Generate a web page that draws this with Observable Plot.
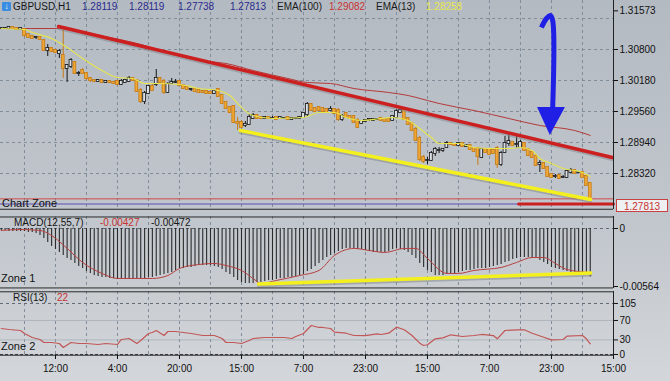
<!DOCTYPE html>
<html><head><meta charset="utf-8">
<script src="https://cdn.jsdelivr.net/npm/d3@7"></script>
<script src="https://cdn.jsdelivr.net/npm/@observablehq/plot@0.6"></script>
<style>
body{margin:0;}
#chart{position:relative;width:670px;height:381px;overflow:hidden;background:linear-gradient(180deg,#b4bac2 0%,#c2c7cd 60%,#d3d6da 100%);font-family:"Liberation Sans",Arial,sans-serif;}
#chart svg{position:absolute;left:0;}
.lbl{position:absolute;font-size:10px;line-height:12px;white-space:nowrap;color:#151515;}
.big{font-size:11px;}
</style></head><body><div id="chart"></div>
<script>
// ---------- DATA ----------
const open = [
1.3122,1.3122,1.3122,1.3124,1.3122,1.3120,1.3120,1.3110,1.3106,1.3104,
1.3104,1.3098,1.3078,1.3082,1.3078,1.3072,1.3068,1.3042,1.3046,1.3054,
1.3032,1.3038,1.3032,1.3022,1.3018,1.3016,1.3018,1.3014,1.3016,1.3014,
1.3016,1.3010,1.3014,1.3016,1.3022,1.3018,1.2998,1.2976,1.2992,1.3006,
1.3010,1.3022,1.3016,1.2994,1.3012,1.3014,1.3016,1.3008,1.3004,1.3000,
1.3000,1.2998,1.2996,1.2996,1.2994,1.2992,1.3000,1.2988,1.2974,1.2964,
1.2966,1.2934,1.2934,1.2928,1.2930,1.2942,1.2948,1.2944,1.2942,1.2944,
1.2942,1.2944,1.2942,1.2942,1.2944,1.2940,1.2942,1.2942,1.2944,1.2950,
1.2970,1.2962,1.2964,1.2962,1.2960,1.2958,1.2960,1.2958,1.2940,1.2952,
1.2946,1.2946,1.2938,1.2932,1.2936,1.2940,1.2938,1.2940,1.2942,1.2940,
1.2940,1.2938,1.2944,1.2954,1.2958,1.2942,1.2932,1.2920,1.2902,1.2864,
1.2858,1.2858,1.2872,1.2878,1.2878,1.2884,1.2892,1.2890,1.2888,1.2892,
1.2886,1.2888,1.2882,1.2882,1.2864,1.2880,1.2880,1.2878,1.2882,1.2850,
1.2874,1.2892,1.2894,1.2890,1.2884,1.2892,1.2880,1.2874,1.2866,1.2850,
1.2852,1.2844,1.2830,1.2826,1.2828,1.2824,1.2824,1.2834,1.2838,1.2834,
1.2834,1.2826,1.2812];
const high = [
1.3124,1.3124,1.3126,1.3126,1.3124,1.3124,1.3122,1.3112,1.3108,1.3106,
1.3106,1.3100,1.3090,1.3084,1.3080,1.3080,1.3124,1.3050,1.3062,1.3056,
1.3036,1.3042,1.3034,1.3024,1.3020,1.3020,1.3020,1.3018,1.3018,1.3016,
1.3018,1.3020,1.3020,1.3026,1.3024,1.3020,1.3002,1.2996,1.3008,1.3012,
1.3040,1.3024,1.3020,1.3014,1.3022,1.3020,1.3018,1.3010,1.3006,1.3002,
1.3002,1.3000,1.2998,1.2998,1.2996,1.2998,1.3002,1.2990,1.2976,1.2966,
1.2968,1.2944,1.2938,1.2936,1.2950,1.2952,1.2950,1.2946,1.2946,1.2946,
1.2946,1.2946,1.2946,1.2944,1.2946,1.2944,1.2944,1.2946,1.2954,1.2974,
1.2972,1.2964,1.2966,1.2964,1.2962,1.2966,1.2962,1.2962,1.2950,1.2954,
1.2948,1.2948,1.2942,1.2938,1.2940,1.2942,1.2942,1.2942,1.2944,1.2942,
1.2942,1.2948,1.2960,1.2962,1.2960,1.2944,1.2934,1.2924,1.2906,1.2868,
1.2864,1.2876,1.2884,1.2884,1.2882,1.2896,1.2894,1.2892,1.2894,1.2894,
1.2890,1.2890,1.2884,1.2884,1.2882,1.2882,1.2882,1.2880,1.2886,1.2876,
1.2906,1.2912,1.2896,1.2910,1.2898,1.2894,1.2882,1.2876,1.2870,1.2858,
1.2854,1.2846,1.2832,1.2830,1.2830,1.2828,1.2840,1.2842,1.2840,1.2836,
1.2836,1.2830,1.2814];
const low = [
1.3120,1.3120,1.3120,1.3120,1.3118,1.3118,1.3104,1.3102,1.3100,1.3100,
1.3098,1.3076,1.3066,1.3074,1.3072,1.3062,1.3022,1.3014,1.3042,1.3030,
1.3026,1.3030,1.3018,1.3014,1.3014,1.3014,1.3012,1.3012,1.3012,1.3010,
1.3008,1.3008,1.3012,1.3014,1.3016,1.2994,1.2972,1.2970,1.2990,1.2996,
1.3006,1.3010,1.2990,1.2992,1.3010,1.3012,1.3006,1.3000,1.2998,1.2996,
1.2994,1.2992,1.2992,1.2990,1.2990,1.2990,1.2984,1.2970,1.2960,1.2952,
1.2932,1.2918,1.2922,1.2924,1.2928,1.2940,1.2940,1.2940,1.2940,1.2940,
1.2940,1.2938,1.2940,1.2940,1.2938,1.2938,1.2940,1.2940,1.2942,1.2946,
1.2956,1.2954,1.2956,1.2954,1.2952,1.2956,1.2950,1.2936,1.2936,1.2942,
1.2940,1.2932,1.2922,1.2930,1.2934,1.2936,1.2936,1.2938,1.2936,1.2934,
1.2934,1.2936,1.2942,1.2952,1.2938,1.2928,1.2916,1.2896,1.2856,1.2852,
1.2850,1.2856,1.2866,1.2872,1.2874,1.2882,1.2888,1.2886,1.2886,1.2884,
1.2884,1.2878,1.2874,1.2848,1.2862,1.2872,1.2868,1.2870,1.2842,1.2846,
1.2872,1.2886,1.2886,1.2882,1.2882,1.2876,1.2866,1.2862,1.2846,1.2834,
1.2840,1.2824,1.2822,1.2822,1.2820,1.2822,1.2822,1.2832,1.2830,1.2832,
1.2822,1.2806,1.2778];
const close = [
1.3122,1.3122,1.3124,1.3122,1.3120,1.3122,1.3108,1.3104,1.3102,1.3104,
1.3100,1.3078,1.3082,1.3076,1.3074,1.3076,1.3042,1.3048,1.3058,1.3032,
1.3032,1.3032,1.3022,1.3018,1.3016,1.3018,1.3014,1.3016,1.3014,1.3012,
1.3010,1.3016,1.3018,1.3022,1.3018,1.2996,1.2976,1.2992,1.3006,1.2998,
1.3022,1.3014,1.2994,1.3010,1.3014,1.3014,1.3008,1.3002,1.3000,1.3000,
1.2996,1.2994,1.2994,1.2992,1.2992,1.2996,1.2986,1.2972,1.2962,1.2954,
1.2934,1.2932,1.2924,1.2930,1.2944,1.2948,1.2942,1.2942,1.2944,1.2942,
1.2942,1.2940,1.2944,1.2942,1.2940,1.2942,1.2942,1.2944,1.2952,1.2970,
1.2958,1.2956,1.2958,1.2956,1.2954,1.2960,1.2952,1.2940,1.2946,1.2944,
1.2942,1.2934,1.2924,1.2936,1.2938,1.2940,1.2940,1.2940,1.2938,1.2936,
1.2936,1.2946,1.2956,1.2958,1.2940,1.2930,1.2918,1.2898,1.2860,1.2856,
1.2858,1.2872,1.2880,1.2878,1.2880,1.2892,1.2890,1.2888,1.2892,1.2886,
1.2888,1.2880,1.2876,1.2866,1.2880,1.2874,1.2870,1.2872,1.2850,1.2872,
1.2892,1.2896,1.2888,1.2890,1.2894,1.2878,1.2868,1.2864,1.2848,1.2852,
1.2842,1.2826,1.2824,1.2826,1.2822,1.2824,1.2836,1.2838,1.2832,1.2834,
1.2824,1.2808,1.27813];

const ema13Idx = [0,6,8,13,17,21,26,30,34,37,40,46,51,56,59,62,65,70,78,82,86,89,93,98,101,105,108,111,113,118,122,126,131,134,137,139,142,145,148,150,152];
const ema13Val = [1.3122,1.3120,1.3114,1.3102,1.3084,1.3062,1.3038,1.3024,1.3022,1.3012,1.3012,1.3010,1.3002,1.2998,1.2988,1.2964,1.2948,1.2942,1.2944,1.2954,1.2954,1.2944,1.2938,1.2942,1.2944,1.2938,1.2922,1.2904,1.2892,1.2892,1.2884,1.2882,1.2882,1.2884,1.2878,1.2862,1.2852,1.2842,1.2838,1.2834,1.28258];
const ema100Idx = [0,15,21,34,51,58,65,74,79,85,91,100,105,110,113,122,131,139,148,152];
const ema100Val = [1.3122,1.3122,1.3114,1.3094,1.3058,1.3052,1.3038,1.3022,1.3014,1.3012,1.3002,1.2994,1.2988,1.2978,1.2972,1.2958,1.2942,1.2928,1.2918,1.29082];

const macdHist = [
-0.00019,-0.00019,-0.00029,-0.00029,-0.00029,-0.00029,-0.00029,-0.00039,-0.00039,-0.00049,
-0.00068,-0.00097,-0.00136,-0.00175,-0.00204,-0.00233,-0.00262,-0.00292,-0.00311,-0.00340,
-0.00369,-0.00389,-0.00418,-0.00437,-0.00457,-0.00467,-0.00476,-0.00476,-0.00486,-0.00486,
-0.00496,-0.00496,-0.00496,-0.00496,-0.00496,-0.00496,-0.00486,-0.00486,-0.00476,-0.00476,
-0.00467,-0.00457,-0.00447,-0.00437,-0.00428,-0.00408,-0.00389,-0.00389,-0.00379,-0.00379,
-0.00369,-0.00360,-0.00360,-0.00360,-0.00360,-0.00369,-0.00379,-0.00399,-0.00428,-0.00447,
-0.00476,-0.00505,-0.00525,-0.00535,-0.00535,-0.00535,-0.00525,-0.00525,-0.00515,-0.00505,
-0.00505,-0.00496,-0.00486,-0.00486,-0.00476,-0.00476,-0.00467,-0.00457,-0.00447,-0.00418,
-0.00399,-0.00369,-0.00340,-0.00311,-0.00282,-0.00262,-0.00243,-0.00224,-0.00204,-0.00194,
-0.00194,-0.00194,-0.00204,-0.00204,-0.00214,-0.00224,-0.00233,-0.00233,-0.00233,-0.00233,
-0.00224,-0.00204,-0.00194,-0.00204,-0.00214,-0.00233,-0.00262,-0.00292,-0.00340,-0.00379,
-0.00408,-0.00428,-0.00457,-0.00457,-0.00457,-0.00447,-0.00437,-0.00437,-0.00428,-0.00418,
-0.00408,-0.00408,-0.00399,-0.00389,-0.00389,-0.00389,-0.00379,-0.00369,-0.00360,-0.00350,
-0.00330,-0.00321,-0.00301,-0.00292,-0.00282,-0.00282,-0.00282,-0.00292,-0.00292,-0.00311,
-0.00330,-0.00350,-0.00379,-0.00389,-0.00399,-0.00408,-0.00418,-0.00428,-0.00428,-0.00428,
-0.00428,-0.00437,-0.00472];
const signalIdx = [0,5,10,13,17,21,26,30,34,39,43,46,51,55,58,62,65,67,71,77,82,86,91,95,99,104,107,110,115,118,122,129,133,137,140,143,146,152];
const signalVal = [-0.00019,-0.00010,-0.00019,-0.00068,-0.00194,-0.00330,-0.00437,-0.00486,-0.00486,-0.00486,-0.00457,-0.00389,-0.00350,-0.00340,-0.00360,-0.00408,-0.00486,-0.00535,-0.00505,-0.00457,-0.00408,-0.00262,-0.00194,-0.00214,-0.00233,-0.00194,-0.00194,-0.00292,-0.00437,-0.00437,-0.00408,-0.00379,-0.00330,-0.00282,-0.00282,-0.00340,-0.00399,-0.00427];

const rsiIdx = [0,2,5,6,8,10,11,13,15,16,18,20,22,25,27,30,31,33,35,36,38,39,40,42,43,45,49,52,55,57,58,60,62,64,65,68,70,73,75,76,78,80,82,83,85,86,89,91,94,97,98,100,102,104,106,108,109,110,112,114,116,119,122,124,127,128,130,133,135,137,140,142,145,146,150,151,152];
const rsiVal = [53.5,51.4,49.4,43.2,35.0,30.9,24.7,24.7,22.6,14.4,24.7,22.6,22.6,20.6,22.6,20.6,30.9,32.9,22.6,28.8,43.2,45.3,49.4,39.1,47.3,47.3,43.2,39.1,39.1,32.9,24.7,24.7,22.6,28.8,32.9,35.0,35.0,35.0,32.9,37.0,43.2,59.7,55.6,55.6,53.5,45.9,43.8,39.1,39.0,42.6,41.2,43.8,56.2,50.8,39.1,23.3,18.5,20.0,32.3,34.3,40.5,37.0,39.1,41.2,39.0,32.3,49.4,50.8,50.8,43.8,35.6,30.2,30.9,37.7,39.1,32.3,22];

// annotations (bar index, price)
const trendRedIdx = [14.8, 157.7], trendRedVal = [1.3126, 1.2864];
const trendYelIdx = [61.7, 152.1], trendYelVal = [1.2918, 1.2780];
const levelRedIdx = [133.5, 158], levelRedVal = 1.2771;
const purpleLevel = 1.2771, lastPrice = 1.27813;
const arrowIdx = [139.4, 140.7, 141.7, 142.3, 142.3], arrowVal = [1.3124, 1.3142, 1.3148, 1.3138, 1.2962];
const arrowHeadIdx = [138.4, 141.7, 145.6], arrowHeadTop = 1.2964, arrowHeadTip = [1.2964, 1.2908, 1.2964];
const macdYelIdx = [66.4, 152.1], macdYelVal = [-0.00540, -0.00433];

const timeIdx = [14,30,46,62,78,94,110,126,142,158];
const timeLabels = ["12:00","4:00","20:00","15:00","7:00","23:00","15:00","7:00","23:00","15:00"];
const priceTicks = [1.31573,1.30800,1.30180,1.29560,1.28940,1.28320];
const priceGrid = [1.3142,1.3080,1.3018,1.2956,1.2894,1.2832];
const macdTicks = [0,-0.00564];
const rsiTicks = [0,30,70,105];

// ---------- BUILD ----------
const chart = document.getElementById("chart");
const XD = [-0.19, 158];
const vGrid = d3.range(6, 151, 8);
const gridStyle = {stroke:"#7b8794", strokeOpacity:0.9, strokeDasharray:"3,3"};
const common = {width:670, marginLeft:0, marginRight:57, marginTop:0,
  style:{background:"transparent", fontFamily:"Liberation Sans, Arial, sans-serif", fontSize:"10px", color:"#111", overflow:"visible"}};

const candles = open.map((o,i)=>({i, o, h:high[i], l:low[i], c:close[i],
  dir: Math.abs(close[i]-o) < 1e-7 ? 0 : (close[i] > o ? 1 : -1)}));
const bodyFill = d => d.dir < 0 ? "#f1a733" : "#dce0e5";
const bodyStroke = d => d.dir < 0 ? "#c47a14" : "#141414";
const pts = (xs, ys) => xs.map((x,k)=>({i:x, v: Array.isArray(ys) ? ys[k] : ys}));

const main = Plot.plot({...common, height:209, marginBottom:0,
  x:{domain:XD, axis:null}, y:{domain:[1.2760,1.3178], axis:null},
  marks:[
    Plot.gridX(vGrid, gridStyle),
    Plot.gridY(priceGrid, gridStyle),
    Plot.ruleY([purpleLevel], {stroke:"#5b4fb6", strokeWidth:1}),
    Plot.ruleY([lastPrice], {stroke:"#d24a4a", strokeWidth:1}),
    Plot.line(pts(ema100Idx, ema100Val), {x:"i", y:"v", stroke:"#b43a3a", strokeWidth:1, curve:"monotone-x"}),
    Plot.ruleX(candles, {x:"i", y1:"l", y2:"h", stroke:bodyStroke, strokeWidth:1}),
    Plot.rect(candles, {x1:d=>d.i-0.36, x2:d=>d.i+0.36, y1:"o", y2:"c", fill:bodyFill, stroke:bodyStroke, strokeWidth:0.8, insetTop:-0.5, insetBottom:-0.5}),
    Plot.line(pts(ema13Idx, ema13Val), {x:"i", y:"v", stroke:"#e6e64e", strokeWidth:1.1, curve:"monotone-x"}),
    Plot.line(pts(trendRedIdx, trendRedVal), {x:"i", y:"v", stroke:"#7f858c", strokeOpacity:0.5, strokeWidth:3, dy:2}),
    Plot.line(pts(trendRedIdx, trendRedVal), {x:"i", y:"v", stroke:"#cc1f1f", strokeWidth:3.5}),
    Plot.line(pts(trendYelIdx, trendYelVal), {x:"i", y:"v", stroke:"#7f858c", strokeOpacity:0.5, strokeWidth:3, dy:2}),
    Plot.line(pts(trendYelIdx, trendYelVal), {x:"i", y:"v", stroke:"#f4f01e", strokeWidth:3.5}),
    Plot.line(pts(levelRedIdx, levelRedVal), {x:"i", y:"v", stroke:"#cc1f1f", strokeWidth:3}),
    Plot.line(pts(arrowIdx, arrowVal), {x:"i", y:"v", stroke:"#1f1fe6", strokeWidth:5, curve:"catmull-rom", strokeLinecap:"butt"}),
    Plot.areaY(arrowHeadIdx.map((x,k)=>({i:x, top:arrowHeadTop, tip:arrowHeadTip[k]})), {x:"i", y1:"top", y2:"tip", fill:"#1f1fe6"}),
    Plot.ruleY([1.27605], {stroke:"#2a2a2a", strokeWidth:1}),
    Plot.ruleX([158], {stroke:"#222"}),
    Plot.axisY(priceTicks, {anchor:"right", tickSize:4, tickPadding:2, tickFormat:d3.format(".5f"), label:null})
  ]});
main.style.top = "0px";
chart.appendChild(main);

const histData = macdHist.map((v,i)=>({i, v}));
const macd = Plot.plot({...common, height:72, marginBottom:0,
  x:{domain:XD, axis:null}, y:{domain:[-0.005834,0.001167], axis:null},
  marks:[
    Plot.gridX(vGrid, gridStyle),
    Plot.ruleY([0], {stroke:"#5f6a76", strokeDasharray:"3,3"}),
    Plot.ruleX(histData, {x:"i", y1:0, y2:"v", stroke:"#2b2b2b", strokeWidth:1.1}),
    Plot.line(pts(signalIdx, signalVal), {x:"i", y:"v", stroke:"#b84040", strokeWidth:1, curve:"monotone-x"}),
    Plot.line(pts(macdYelIdx, macdYelVal), {x:"i", y:"v", stroke:"#7f858c", strokeOpacity:0.5, strokeWidth:3, dy:2}),
    Plot.line(pts(macdYelIdx, macdYelVal), {x:"i", y:"v", stroke:"#f4f01e", strokeWidth:3.5}),
    Plot.ruleY([0.00112], {stroke:"#2a2a2a"}),
    Plot.ruleY([-0.00578], {stroke:"#2a2a2a"}),
    Plot.ruleX([158], {stroke:"#222"}),
    Plot.axisY(macdTicks, {anchor:"right", tickSize:4, tickPadding:2, tickFormat:d=> d===0 ? "0" : d.toFixed(5), label:null})
  ]});
macd.style.top = "216px";
chart.appendChild(macd);

const rsi = Plot.plot({...common, height:90, marginBottom:26,
  x:{domain:XD, axis:null}, y:{domain:[-2.06,129.6], axis:null},
  marks:[
    Plot.gridX(vGrid, gridStyle),
    Plot.ruleY([105], {stroke:"#5f6a76", strokeDasharray:"3,3"}),
    Plot.ruleY([70,30], {stroke:"#9aa3ad", strokeOpacity:0.6}),
    Plot.ruleY([0], {stroke:"#3a3f45", strokeDasharray:"3,2"}),
    Plot.line(pts(rsiIdx, rsiVal), {x:"i", y:"v", stroke:"#c25757", strokeWidth:1.2}),
    Plot.ruleY([129], {stroke:"#2a2a2a"}),
    Plot.ruleY([-1.5], {stroke:"#2a2a2a"}),
    Plot.ruleX([158], {stroke:"#222"}),
    Plot.axisY(rsiTicks, {anchor:"right", tickSize:4, tickPadding:2, label:null}),
    Plot.axisX(timeIdx, {anchor:"bottom", tickSize:4, tickPadding:5, tickFormat:(d)=>timeLabels[timeIdx.indexOf(d)], label:null})
  ]});
rsi.style.top = "291px";
chart.appendChild(rsi);

// ---------- TEXT OVERLAYS ----------
function label(text, left, top, color, cls){
  const d = document.createElement("div");
  d.className = "lbl" + (cls ? " " + cls : "");
  d.textContent = text; d.style.left = left + "px"; d.style.top = top + "px";
  if (color) d.style.color = color;
  chart.appendChild(d); return d;
}
const icon = document.createElement("div");
Object.assign(icon.style, {position:"absolute", left:"2px", top:"2px", width:"9px", height:"9px", background:"#3a8de0", borderRadius:"1px", color:"#fff", fontSize:"8px", lineHeight:"9px", textAlign:"center"});
icon.textContent = "↓";
chart.appendChild(icon);

const header = [["GBPUSD,H1",13,"#151515"],["1.28119",82,"#2a2a8e"],["1.28119",129,"#2a2a8e"],["1.27738",178,"#2a2a8e"],["1.27813",230,"#2a2a8e"],["EMA(100)",277,"#1a1a1a"],["1.29082",329,"#c83232"],["EMA(13)",376,"#1a1a1a"],["1.28258",426,"#e8e84a"]];
header.forEach(([t,x,c]) => label(t, x, 1, c));
label("Chart Zone", 2, 197, "#111", "big");
label("MACD(12,55,7)", 14, 217, "#151515");
label("-0.00427", 100, 217, "#c83232");
label("-0.00472", 151, 217, "#151515");
label("Zone 1", 1, 272, "#111", "big");
label("RSI(13)", 13, 292, "#151515");
label("22", 57, 292, "#c83232");
label("Zone 2", 1, 340, "#111", "big");
const box = label("1.27813", 616, 199, "#c83232");
Object.assign(box.style, {width:"52px", height:"13px", lineHeight:"13px", textAlign:"center", border:"1px solid #c84040", background:"#eef0f2", boxSizing:"border-box"});
</script></body></html>
